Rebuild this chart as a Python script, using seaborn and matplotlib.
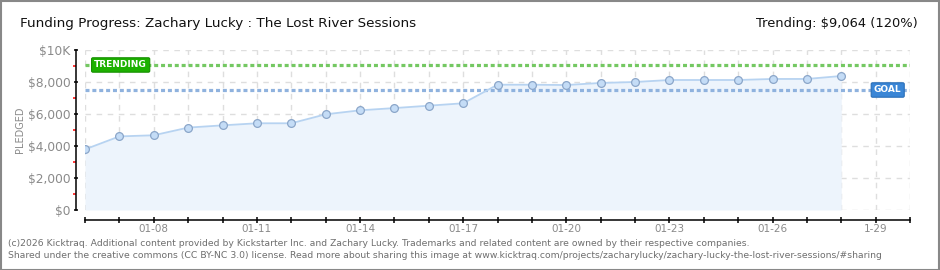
import matplotlib
matplotlib.use("Agg")
import matplotlib.pyplot as plt
import seaborn as sns
import pandas as pd
from matplotlib.patches import Rectangle
from matplotlib.ticker import FixedLocator

# ---- data ----
days = [6, 7, 8, 9, 10, 11, 12, 13, 14, 15, 16, 17, 18, 19, 20, 21, 22, 23, 24, 25, 26, 27, 28]
pledged = [3790, 4600, 4670, 5150, 5290, 5420, 5420, 5980, 6230, 6370, 6520, 6670,
           7830, 7830, 7810, 7940, 8000, 8125, 8125, 8125, 8190, 8190, 8375]
goal = 7500
trending = 9064
tick_days = [6, 7, 8, 9, 10, 11, 12, 13, 14, 15, 16, 17, 18, 19, 20, 21, 22, 23, 24, 25, 26, 27, 28, 29, 30]
label_days = [8, 11, 14, 17, 20, 23, 26, 29]
label_texts = ["01-08", "01-11", "01-14", "01-17", "01-20", "01-23", "01-26", "1-29"]
y_ticks = [0, 2000, 4000, 6000, 8000, 10000]
y_labels = ["$0", "$2,000", "$4,000", "$6,000", "$8,000", "$10K"]
y_minor = [1000, 3000, 5000, 7000, 9000]

title = "Funding Progress: Zachary Lucky : The Lost River Sessions"
trend_text = "Trending: \\$9,064 (120%)"
footer1 = ("(c)2026 Kicktraq. Additional content provided by Kickstarter Inc. and Zachary Lucky. "
           "Trademarks and related content are owned by their respective companies.")
footer2 = ("Shared under the creative commons (CC BY-NC 3.0) license. Read more about sharing this image at "
           "www.kicktraq.com/projects/zacharylucky/zachary-lucky-the-lost-river-sessions/#sharing")

sns.set_style("white")
plt.rcParams['font.family'] = ['DejaVu Sans']

W, H = 940, 270
PX = 72 / 100  # points per pixel
fig = plt.figure(figsize=(W / 100, H / 100), dpi=100)
fig.patch.set_facecolor('white')
ax = fig.add_axes([85 / W, 60 / H, 825 / W, 160 / H])

df = pd.DataFrame({"day": days, "pledged": pledged})
ax.fill_between(df["day"], df["pledged"], 0, color='#edf4fc', zorder=1, lw=0)
sns.lineplot(data=df, x="day", y="pledged", ax=ax, color='#b7d3f1', lw=1.3,
             marker='o', markersize=5.6, markerfacecolor='#c4dcf6',
             markeredgecolor='#8ba6c9', markeredgewidth=0.9, zorder=5)

ax.axhline(trending, color='#74c862', lw=2.3, ls=(0, (1.25, 0.9)), zorder=3)
ax.axhline(goal, color='#8fb2de', lw=2.3, ls=(0, (1.25, 0.9)), zorder=3)

ax.text(6.27, trending, "TRENDING", color='white', fontsize=6.5, fontweight='bold',
        va='center', ha='left', zorder=7,
        bbox=dict(boxstyle='round,pad=0.3,rounding_size=0.15', fc='#1db100', ec='#168f00', lw=0.8))
ax.text(28.95, goal, "GOAL", color='white', fontsize=6.5, fontweight='bold',
        va='center', ha='left', zorder=7,
        bbox=dict(boxstyle='round,pad=0.3,rounding_size=0.15', fc='#3a86d6', ec='#2a6fb8', lw=0.8))

ax.set_xlim(tick_days[0], tick_days[-1])
ax.set_ylim(0, 10000)
ax.set_xlabel("")
ax.set_ylabel("")

ax.set_xticks(tick_days)
lab_map = dict(zip(label_days, label_texts))
ax.set_xticklabels([lab_map.get(d, "") for d in tick_days])
ax.set_yticks(y_ticks)
ax.set_yticklabels(y_labels)
ax.yaxis.set_minor_locator(FixedLocator(y_minor))

ax.grid(True, which='major', ls=(0, (4, 4)), color='#dedede', lw=1)
ax.set_axisbelow(True)

for s in ['top', 'right']:
    ax.spines[s].set_visible(False)
ax.spines['left'].set_position(('outward', 9 * PX))
ax.spines['bottom'].set_position(('outward', 10 * PX))
for s in ['left', 'bottom']:
    ax.spines[s].set_color('black')
    ax.spines[s].set_linewidth(1.1)

ax.tick_params(axis='y', which='major', direction='inout', length=5 * PX, width=1.1,
               color='black', labelsize=8.8, labelcolor='#8a8a8a', pad=3 * PX, left=True)
ax.tick_params(axis='y', which='minor', direction='out', length=3 * PX, width=1.1,
               color='#ff0000', left=True)
ax.tick_params(axis='x', which='major', direction='inout', length=6 * PX, width=1.1,
               color='black', labelsize=7.5, labelcolor='#8a8a8a', pad=1, bottom=True)

fig.text(20 / W, 1 - 23 / H, title, fontsize=9.7, color='#111111', va='center', ha='left')
fig.text(918 / W, 1 - 23 / H, trend_text, fontsize=9.4, color='#111111', va='center', ha='right')
fig.text(20 / W, 1 - 130 / H, "PLEDGED", fontsize=7, color='#8a8a8a', rotation=90,
         va='center', ha='center')
fig.text(8 / W, 1 - 243 / H, footer1, fontsize=6.7, color='#6e6e6e', va='center', ha='left')
fig.text(8 / W, 1 - 256 / H, footer2, fontsize=6.7, color='#6e6e6e', va='center', ha='left')

fig.add_artist(Rectangle((0.5 / W, 0.5 / H), 1 - 1.5 / W, 1 - 1.5 / H, transform=fig.transFigure,
                         fill=False, edgecolor='#888888', lw=1.5))

fig.savefig("out.png", dpi=100, facecolor='white')
